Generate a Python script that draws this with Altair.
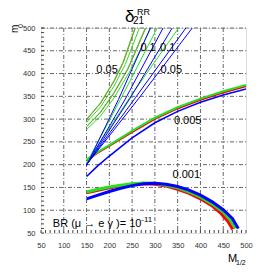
import altair as alt
import pandas as pd

# ---------------- axis values ----------------
x_labels = [50, 100, 150, 200, 250, 300, 350, 400, 450, 500]
y_labels = [50, 100, 150, 200, 250, 300, 350, 400, 450, 500]
minor_ticks = list(range(50, 501, 10))
grid_x = [100, 150, 200, 250, 300, 350, 400, 450]
grid_y = [100, 150, 200, 250, 300, 350, 400, 450, 500]

# ---------------- delta = 0.001 ----------------
d1_red_x = [150, 175, 200, 225, 250, 275, 300, 325, 350, 375, 400, 425, 445, 460, 471]
d1_red_y = [138, 144, 149, 153, 156, 158, 157, 153, 146, 137, 125, 110, 93, 76, 58]
d1_green_x = [150, 175, 200, 225, 250, 275, 300, 325, 350, 375, 400, 425, 450, 465, 477]
d1_green_y = [140, 146, 151, 155, 158, 160, 159, 155, 149, 140, 129, 114, 96, 79, 60]
d1_blue_x = [150, 175, 200, 225, 250, 275, 300, 325, 350, 375, 400, 425, 450, 470, 483]
d1_blue_y = [125, 133, 141, 148, 154, 158, 159, 157, 152, 144, 133, 119, 101, 82, 60]

# ---------------- delta = 0.005 ----------------
d5_x = [150, 175, 200, 250, 300, 350, 400, 450, 500]
d5_red_y = [209, 226, 241, 271, 300, 323, 342, 358, 372]
d5_green_y = [211, 228, 243, 274, 303, 326, 345, 361, 375]
d5_blue_y = [174, 198, 219, 259, 292, 317, 337, 353, 366]

# ---------------- delta = 0.05 / 0.1 upper branches ----------------
u1_x = [150, 180, 210, 230, 256]
u1_y = [300, 335, 384, 425, 500]
u2_x = [150, 180, 210, 235, 266]
u2_y = [293, 326, 372, 420, 500]
u3_x = [150, 180, 210, 240, 279]
u3_y = [284, 315, 358, 410, 500]
u4_x = [150, 180, 210, 245, 291]
u4_y = [277, 306, 346, 405, 500]
ur1_x = [151, 181, 211, 231, 257]
ur3_x = [151, 181, 211, 241, 280]

# ---------------- delta = 0.05 / 0.1 lower branches ----------------
f1_x = [150, 220, 290]
f1_y = [198, 343, 500]
f2_x = [150, 228, 305]
f2_y = [203, 350, 500]
f3_x = [150, 235, 318]
f3_y = [199, 344, 500]
f4_x = [150, 245, 338]
f4_y = [199, 345, 500]
f5_x = [150, 250, 352]
f5_y = [205, 355, 500]
f6_x = [150, 258, 368]
f6_y = [200, 348, 500]
f7_x = [150, 265, 382]
f7_y = [200, 346, 500]

# ---------------- labels ----------------
lab_text = ["0.05", "0.1", "0.1", "0.05", "0.005", "0.001"]
lab_x = [195, 285, 328, 336, 372, 369]
lab_y = [408, 457, 457, 408, 296, 177]

RED = "#ff0000"
GREEN = "#22e022"
BLUE = "#0000ff"

lines_spec = [
    ("d1r", RED, 3.0, d1_red_x, d1_red_y),
    ("d1g", GREEN, 3.0, d1_green_x, d1_green_y),
    ("d1b", BLUE, 3.0, d1_blue_x, d1_blue_y),
    ("d5r", RED, 1.6, d5_x, d5_red_y),
    ("d5g", GREEN, 2.0, d5_x, d5_green_y),
    ("d5b", BLUE, 1.6, d5_x, d5_blue_y),
    ("ur1", RED, 0.8, ur1_x, u1_y),
    ("ur3", RED, 0.8, ur3_x, u3_y),
    ("u1", GREEN, 1.0, u1_x, u1_y),
    ("u2", GREEN, 1.0, u2_x, u2_y),
    ("u3", GREEN, 1.0, u3_x, u3_y),
    ("u4", GREEN, 1.0, u4_x, u4_y),
    ("f2", GREEN, 1.0, f2_x, f2_y),
    ("f5", GREEN, 1.0, f5_x, f5_y),
    ("f1", BLUE, 1.0, f1_x, f1_y),
    ("f3", BLUE, 1.0, f3_x, f3_y),
    ("f4", BLUE, 1.0, f4_x, f4_y),
    ("f6", BLUE, 1.0, f6_x, f6_y),
    ("f7", BLUE, 1.0, f7_x, f7_y),
]

rows = []
for k, (name, col, w, xs_, ys_) in enumerate(lines_spec):
    for i, (xv, yv) in enumerate(zip(xs_, ys_)):
        rows.append({"id": f"{k:02d}_{name}", "i": i, "x": xv, "y": yv, "c": col, "w": w})
df_lines = pd.DataFrame(rows)

FONT = "Liberation Sans"
xs = alt.Scale(domain=[50, 500], nice=False, zero=False)
ys = alt.Scale(domain=[50, 500], nice=False, zero=False)
xaxis = alt.Axis(values=x_labels, ticks=False, domain=False, grid=False, title=None,
                 labelFontSize=7.5, labelFont=FONT, labelColor="#333", labelPadding=8,
                 labelFlush=False)
yaxis = alt.Axis(values=y_labels, ticks=False, domain=False, grid=False, title=None,
                 labelFontSize=7.5, labelFont=FONT, labelColor="#333", labelPadding=6,
                 labelFlush=False)
DASH = [4, 2, 1, 2]
GRID_COL = "#666666"

vgrid = alt.Chart(pd.DataFrame({"v": grid_x})).mark_rule(
    color=GRID_COL, strokeDash=DASH, strokeWidth=1
).encode(
    x=alt.X("v:Q", scale=xs, axis=xaxis),
    y=alt.value(0),
    y2=alt.value(205),
)
hgrid = alt.Chart(pd.DataFrame({"v": grid_y})).mark_rule(
    color=GRID_COL, strokeDash=DASH, strokeWidth=1
).encode(
    y=alt.Y("v:Q", scale=ys, axis=yaxis),
    x=alt.value(0),
    x2=alt.value(205),
)
yticks = alt.Chart(pd.DataFrame({"v": minor_ticks})).mark_rule(color="#444", strokeWidth=1).encode(
    y=alt.Y("v:Q", scale=ys, axis=yaxis),
    x=alt.value(0),
    x2=alt.value(3),
)
xticks = alt.Chart(pd.DataFrame({"v": minor_ticks})).mark_rule(color="#444", strokeWidth=1).encode(
    x=alt.X("v:Q", scale=xs, axis=xaxis),
    y=alt.value(202),
    y2=alt.value(205),
)

lines = alt.Chart(df_lines).mark_line(clip=True, strokeCap="butt").encode(
    x=alt.X("x:Q", scale=xs, axis=xaxis),
    y=alt.Y("y:Q", scale=ys, axis=yaxis),
    detail="id:N",
    order="i:Q",
    color=alt.Color("c:N", scale=None),
    strokeWidth=alt.StrokeWidth("w:Q", scale=None),
)

labels = alt.Chart(pd.DataFrame({"t": lab_text, "x": lab_x, "y": lab_y})).mark_text(
    fontSize=11, font=FONT, color="black", align="center", baseline="middle"
).encode(x=alt.X("x:Q", scale=xs, axis=xaxis), y=alt.Y("y:Q", scale=ys, axis=yaxis), text="t:N")

br_df = pd.DataFrame({"t": ["BR (μ → e γ )= 10"], "x": [76], "y": [63]})
br = alt.Chart(br_df).mark_text(
    fontSize=11, font=FONT, color="black", align="left", baseline="alphabetic"
).encode(x=alt.X("x:Q", scale=xs, axis=xaxis), y=alt.Y("y:Q", scale=ys, axis=yaxis), text="t:N")
br_exp_df = pd.DataFrame({"t": ["-11"], "x": [270], "y": [74]})
br_exp = alt.Chart(br_exp_df).mark_text(
    fontSize=8, font=FONT, color="black", align="left", baseline="alphabetic"
).encode(x=alt.X("x:Q", scale=xs, axis=xaxis), y=alt.Y("y:Q", scale=ys, axis=yaxis), text="t:N")


def ptext(txt, x, y, size, angle=0, align="left"):
    return alt.Chart(pd.DataFrame({"t": [txt]})).mark_text(
        fontSize=size, font=FONT, color="black", align=align, baseline="alphabetic", angle=angle
    ).encode(x=alt.value(x), y=alt.value(y), text="t:N")


title_parts = [
    ptext("δ", 84, -6, 17),
    ptext("21", 92, -4, 10),
    ptext("RR", 96, -13, 9),
    ptext("m", -23, 5, 10, angle=270),
    ptext("0", -18, 0, 7, angle=270),
    ptext("M", 187, 234, 11),
    ptext("1/2", 195, 237, 7),
]

chart = alt.layer(
    vgrid, hgrid, yticks, xticks, lines, labels, br, br_exp, *title_parts
).properties(
    width=205, height=205,
    autosize=alt.AutoSizeParams(type="none"),
    padding={"left": 33, "top": 20, "right": 20, "bottom": 34},
).configure_view(stroke=None).configure(background="white")

chart.save("out.html", embed_options={"renderer": "svg", "actions": False})
